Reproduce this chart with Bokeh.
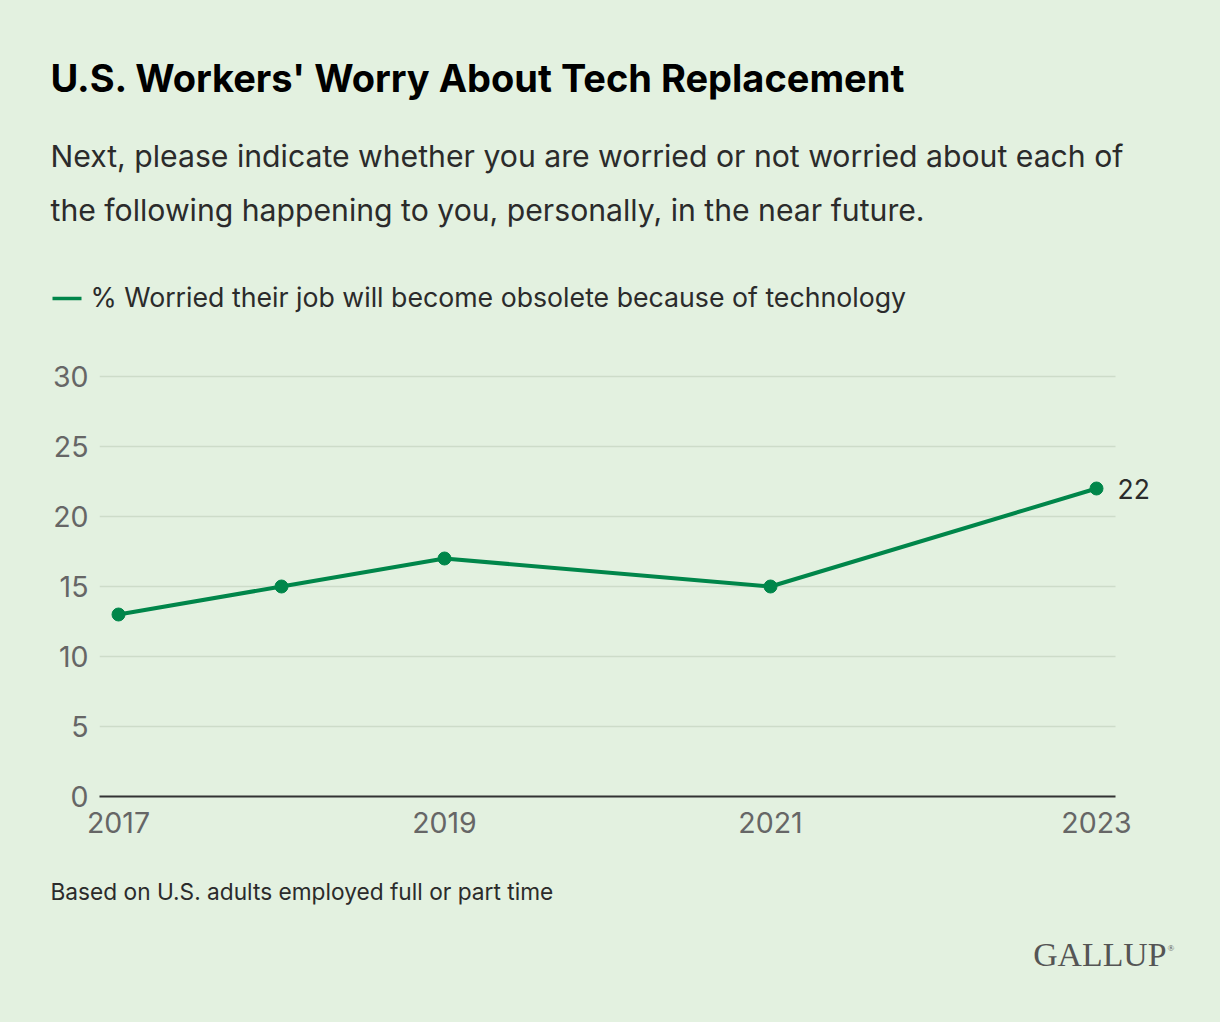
from bokeh.plotting import figure
from bokeh.models import Range1d, Label, FixedTicker, Grid, Plot
from bokeh.layouts import column
from bokeh.embed import file_html
from bokeh.resources import INLINE

years = [2017, 2018, 2019, 2021, 2023]
worried = [13, 15, 17, 15, 22]
x_ticks = [2017, 2019, 2021, 2023]
y_ticks = [0, 5, 10, 15, 20, 25, 30]

title = "U.S. Workers' Worry About Tech Replacement"
subtitle1 = "Next, please indicate whether you are worried or not worried about each of"
subtitle2 = "the following happening to you, personally, in the near future."
legend_text = "% Worried their job will become obsolete because of technology"
footer = "Based on U.S. adults employed full or part time"
brand = "GALLUP"

BG = "#E3F1E0"
GREEN = "#00864A"
TXT = "#2B2B2B"
FONT = "Inter"
W = 1220
HAS_FRAME_ALIGN = "frame_align" in Plot.properties()


def blank_fig(h):
    kw = dict(frame_width=W, frame_height=h, output_backend="svg", toolbar_location=None,
              x_range=Range1d(0, W), y_range=Range1d(0, h),
              x_axis_location=None, y_axis_location=None,
              min_border=0, min_border_left=0, min_border_right=0,
              min_border_top=0, min_border_bottom=0)
    f = figure(**kw)
    if HAS_FRAME_ALIGN:
        f.frame_align = False
    f.background_fill_color = None
    f.border_fill_color = BG
    f.outline_line_color = None
    f.grid.visible = False
    return f


def tlab(fig, hgt, px, py, text, size, color=TXT, style="normal", font=FONT, align="left"):
    # py is the desired baseline (page px inside this figure); shift for renderer baseline offset
    adj = 0.39 * size
    fig.add_layout(Label(x=px, y=hgt - (py - adj), text=text, text_font=font,
                         text_font_size=f"{size}px", text_color=color,
                         text_font_style=style, text_align=align,
                         text_baseline="alphabetic"))

# ---------------- header figure (page y 0..356) ----------------
TOP_H = 356
top = blank_fig(TOP_H)
tlab(top, TOP_H, 50, 92, title, 38, color="#000000", style="bold")
tlab(top, TOP_H, 50, 167, subtitle1, 30.2)
tlab(top, TOP_H, 50, 221, subtitle2, 30.2)
tlab(top, TOP_H, 90, 307, legend_text, 26.7)
top.line([52, 81], [TOP_H - 298, TOP_H - 298], line_color=GREEN, line_width=3.5)

# ---------------- main chart (page y 356..840) ----------------
FL, FR_AX, FR, FT, FB = 99, 1115, 1160, 366, 796
MAIN_TOP, MAIN_BOT = 356, 840
PX_PER_YEAR = 163.0
PX_PER_UNIT = 14.0

x0 = 2017 - (118 - FL) / PX_PER_YEAR
x1 = 2023 + (FR - 1096) / PX_PER_YEAR
x_ax_end = 2023 + (FR_AX - 1096) / PX_PER_YEAR
y1 = (FB - FT) / PX_PER_UNIT

p = figure(width=W, height=MAIN_BOT - MAIN_TOP, output_backend="svg", toolbar_location=None,
           x_range=Range1d(x0, x1), y_range=Range1d(0, y1),
           min_border_left=FL, min_border_right=W - FR,
           min_border_top=FT - MAIN_TOP, min_border_bottom=MAIN_BOT - FB)
if HAS_FRAME_ALIGN:
    p.frame_align = False
p.background_fill_color = None
p.border_fill_color = BG
p.outline_line_color = None

p.xaxis.ticker = FixedTicker(ticks=x_ticks)
p.yaxis.ticker = FixedTicker(ticks=y_ticks)
for ax in (p.xaxis[0], p.yaxis[0]):
    ax.major_tick_line_color = None
    ax.minor_tick_line_color = None
    ax.major_label_text_font = FONT
    ax.major_label_text_font_size = "28.5px"
    ax.major_label_text_color = "#666666"
p.yaxis.axis_line_color = None
p.yaxis.major_label_standoff = 5
p.xaxis.axis_line_color = "#333333"
p.xaxis.axis_line_width = 2
p.xaxis.major_label_standoff = 9
p.xaxis.bounds = (x0, x_ax_end)
p.xgrid.grid_line_color = None
p.ygrid.grid_line_color = "#CDDCC9"
p.ygrid.grid_line_width = 1.5
if "cross_bounds" in Grid.properties():
    p.ygrid.cross_bounds = (x0, x_ax_end)

p.line(years, worried, line_color=GREEN, line_width=4)
p.scatter(years, worried, size=13, fill_color=GREEN, line_color=GREEN)
p.add_layout(Label(x=years[-1], y=worried[-1], text=str(worried[-1]), x_offset=21,
                   text_font=FONT, text_font_size="26.5px", text_color=TXT,
                   text_baseline="middle", text_align="left"))

# ---------------- footer figure (page y 840..1022) ----------------
BOT_H = 1022 - MAIN_BOT
bot = blank_fig(BOT_H)
tlab(bot, BOT_H, 50, 900 - MAIN_BOT, footer, 22.7)
tlab(bot, BOT_H, 1166, 967 - MAIN_BOT, brand, 33.8, color="#555555", font="Liberation Serif", align="right")
tlab(bot, BOT_H, 1167, 951 - MAIN_BOT, "®", 9, color="#555555", font="Liberation Serif")

layout = column(top, p, bot, spacing=0, styles={"background-color": BG})
open("out.html", "w").write(file_html(layout, INLINE))
